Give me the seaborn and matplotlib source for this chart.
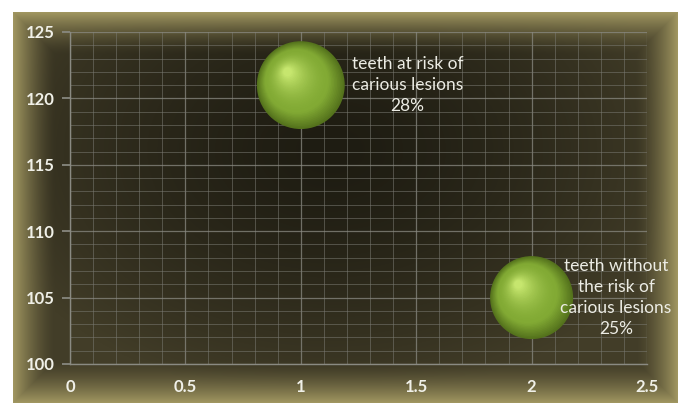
import numpy as np
import pandas as pd
import matplotlib
matplotlib.use("Agg")
import matplotlib.pyplot as plt
import matplotlib.transforms as mtransforms
from matplotlib.ticker import MultipleLocator
import seaborn as sns

# Bubble data
categories = ["teeth at risk of\ncarious lesions", "teeth without\nthe risk of\ncarious lesions"]
x_values = [1, 2]
y_values = [121, 105]
shares = [28, 25]
x_ticks = [0, 0.5, 1, 1.5, 2, 2.5]
y_ticks = [100, 105, 110, 115, 120, 125]

sns.set_theme(style="dark")
plt.rcParams["font.family"] = ["Lato", "DejaVu Sans"]

W, H, DPI = 684, 403, 100
fig = plt.figure(figsize=(W / DPI, H / DPI), dpi=DPI)
fig.patch.set_facecolor("white")

# Beveled olive frame with a dark vignette inside
yy, xx = np.mgrid[0:H, 0:W].astype(float)
x0, y0, x1, y1 = 13, 12, 677, 402
d = np.minimum.reduce([xx - x0, yy - y0, x1 - xx, y1 - yy])
light = np.array([160, 150, 96]) / 255
mid = np.array([66, 61, 40]) / 255
dark = np.array([30, 28, 18]) / 255
t_edge = np.clip(1 - np.clip(d, 0, None) / 42.0, 0, 1) ** 1.5
cx, cy = 330, 150
r = np.sqrt(((xx - cx) / 360) ** 2 + ((yy - cy) / 250) ** 2)
t_vig = np.clip(r, 0, 1) ** 1.5
inner = dark[None, None, :] * (1 - t_vig[..., None]) + mid[None, None, :] * t_vig[..., None]
img = inner * (1 - t_edge[..., None]) + light[None, None, :] * t_edge[..., None]
img[d < 0] = 1.0
bg = fig.add_axes([0, 0, 1, 1], zorder=0)
bg.imshow(img, aspect="auto", extent=[0, 1, 0, 1], origin="upper")
bg.set_axis_off()

ax = fig.add_axes([70 / W, 39 / H, 577 / W, 332 / H], zorder=1)
ax.set_facecolor("none")
ax.set_xlim(0, 2.5)
ax.set_ylim(100, 125)
ax.xaxis.set_major_locator(MultipleLocator(0.5))
ax.xaxis.set_minor_locator(MultipleLocator(0.1))
ax.yaxis.set_major_locator(MultipleLocator(5))
ax.yaxis.set_minor_locator(MultipleLocator(1))
ax.grid(which="major", color="#8a8a82", linewidth=0.9, alpha=0.75)
ax.grid(which="minor", color="#7a7a72", linewidth=0.7, alpha=0.55)
ax.set_axisbelow(True)
for side in ["top", "right"]:
    ax.spines[side].set_visible(False)
for side in ["left", "bottom"]:
    ax.spines[side].set_color("#8a8a82")
    ax.spines[side].set_linewidth(1.0)
ax.tick_params(axis="y", which="major", length=6, color="#8a8a82", direction="out",
               left=True, pad=5, labelsize=12, labelcolor="#f0f0e8")
ax.tick_params(axis="x", which="major", length=0, pad=11, labelsize=12, labelcolor="#f0f0e8")
ax.tick_params(which="minor", length=0)
ax.set_xticks(x_ticks)
ax.set_yticks(y_ticks)
ax.set_xticklabels([f"{v:g}" for v in x_ticks], fontweight="bold")
ax.set_yticklabels([f"{v:g}" for v in y_ticks], fontweight="bold")

df = pd.DataFrame({"x": x_values, "y": y_values, "share": shares, "label": categories})

# Marker area (pt^2) proportional to the share
area_per_unit = 4000 / 28
base_sizes = df["share"].to_numpy() * area_per_unit

# Layered discs give each bubble a shaded sphere look
edge_col = np.array([84, 114, 28]) / 255
body_col = np.array([130, 170, 52]) / 255
hi_col = np.array([198, 230, 110]) / 255
n_layers = 36
radius_pt = np.sqrt(base_sizes[0]) / 2
for i in range(n_layers):
    f = i / (n_layers - 1)
    scale = 1 - 0.9 * f
    if f < 0.3:
        col = edge_col + (body_col - edge_col) * (f / 0.3)
    else:
        col = body_col + (hi_col - body_col) * ((f - 0.3) / 0.7) ** 1.8
    off = mtransforms.offset_copy(ax.transData, fig=fig,
                                  x=-0.3 * radius_pt * f, y=0.3 * radius_pt * f,
                                  units="points")
    sns.scatterplot(data=df, x="x", y="y", s=base_sizes * scale ** 2, color=tuple(col),
                    edgecolor="none", linewidth=0, ax=ax, legend=False,
                    transform=off, zorder=3 + i * 0.01, clip_on=False)
ax.set_xlabel("")
ax.set_ylabel("")

# Data labels to the right of each bubble
label_dx = [0.462, 0.366]
for (_, row), dx in zip(df.iterrows(), label_dx):
    ax.text(row["x"] + dx, row["y"], f"{row['label']}\n{row['share']}%",
            ha="center", va="center", fontsize=12.5, color="#ecece4",
            linespacing=1.4, zorder=10, clip_on=False)

fig.savefig("out.png", dpi=DPI)
